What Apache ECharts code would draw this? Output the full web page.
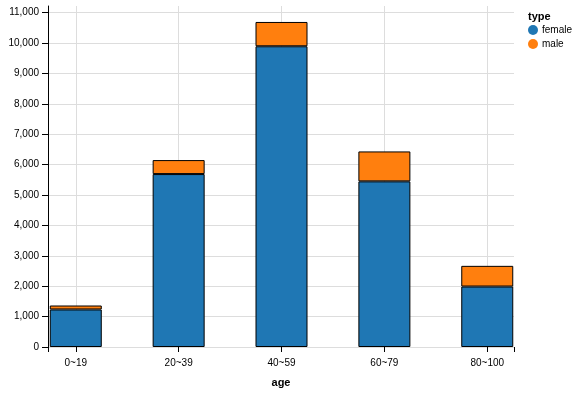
<!DOCTYPE html>
<html>
<head>
<meta charset="utf-8">
<script src="https://cdn.jsdelivr.net/npm/echarts@6/dist/echarts.min.js"></script>
<style>html,body{margin:0;padding:0;background:#fff}#c{width:585px;height:395px}</style>
</head>
<body>
<div id="c"></div>
<script>
const categories = ['0~19', '20~39', '40~59', '60~79', '80~100'];
const female = [1235, 5690, 9895, 5450, 1990];
const male = [130, 460, 800, 985, 680];
const yTicks = [0, 1000, 2000, 3000, 4000, 5000, 6000, 7000, 8000, 9000, 10000, 11000];
const seriesNames = ['female', 'male'];

const FONT = 'Liberation Sans, Arial, sans-serif';
const catIdx = categories.map((c, i) => i);
const xMin = -0.27, xMax = 4.26;

const chart = echarts.init(document.getElementById('c'));
chart.setOption({
  animation: false,
  textStyle: { fontFamily: FONT },
  title: {
    text: 'type', left: 528, top: 11, padding: 0,
    textStyle: { fontSize: 11, fontWeight: 'bold', color: '#000', fontFamily: FONT }
  },
  legend: {
    orient: 'vertical', left: 528, top: 25, padding: 0,
    icon: 'circle', itemWidth: 10, itemHeight: 10, itemGap: 4,
    itemStyle: { borderWidth: 0 },
    data: seriesNames,
    textStyle: { fontSize: 10, color: '#000', fontFamily: FONT, padding: [0, 0, 0, -1] }
  },
  grid: { left: 48, right: 71, top: 6, bottom: 48, containLabel: false, outerBoundsMode: 'none' },
  xAxis: [{
    type: 'value', min: xMin, max: xMax,
    name: 'age', nameLocation: 'middle', nameGap: 30,
    nameTextStyle: { fontSize: 11, fontWeight: 'bold', color: '#000', fontFamily: FONT },
    axisLine: { show: true, onZero: false, lineStyle: { color: '#ddd' } },
    axisTick: { show: true, customValues: catIdx, length: 5, lineStyle: { color: '#000' } },
    axisLabel: { customValues: catIdx, margin: 11, fontSize: 10, color: '#000', fontFamily: FONT,
      formatter: v => categories[Math.round(v)] },
    splitLine: { show: true, lineStyle: { color: '#ddd' } }
  }, {
    type: 'value', min: xMin, max: xMax, position: 'bottom', offset: 0,
    axisLine: { show: false, onZero: false },
    axisTick: { show: true, customValues: [xMin, xMax], length: 5, lineStyle: { color: '#000' } },
    axisLabel: { show: false },
    splitLine: { show: false }
  }],
  yAxis: {
    type: 'value', min: 0, max: 11220,
    name: 'population', nameLocation: 'middle', nameGap: 35,
    nameTextStyle: { fontSize: 11, fontWeight: 'bold', color: '#000', fontFamily: FONT },
    axisLine: { show: true, onZero: false, lineStyle: { color: '#000' } },
    axisTick: { show: true, customValues: yTicks, length: 6, lineStyle: { color: '#000' } },
    axisLabel: { customValues: yTicks, margin: 9, fontSize: 10, color: '#000', fontFamily: FONT,
      formatter: v => v.toLocaleString('en-US') },
    splitLine: { show: true, lineStyle: { color: '#ddd' } }
  },
  series: [
    {
      name: 'female', type: 'bar', stack: 'total', barWidth: 52,
      encode: { x: 1, y: 0 },
      data: female.map((v, i) => [v, i]),
      itemStyle: { color: '#1f77b4', borderColor: '#000', borderWidth: 1 }
    },
    {
      name: 'male', type: 'bar', stack: 'total', barWidth: 52,
      encode: { x: 1, y: 0 },
      data: male.map((v, i) => [v, i]),
      itemStyle: { color: '#ff7f0e', borderColor: '#000', borderWidth: 1 }
    }
  ]
});
</script>
</body>
</html>
